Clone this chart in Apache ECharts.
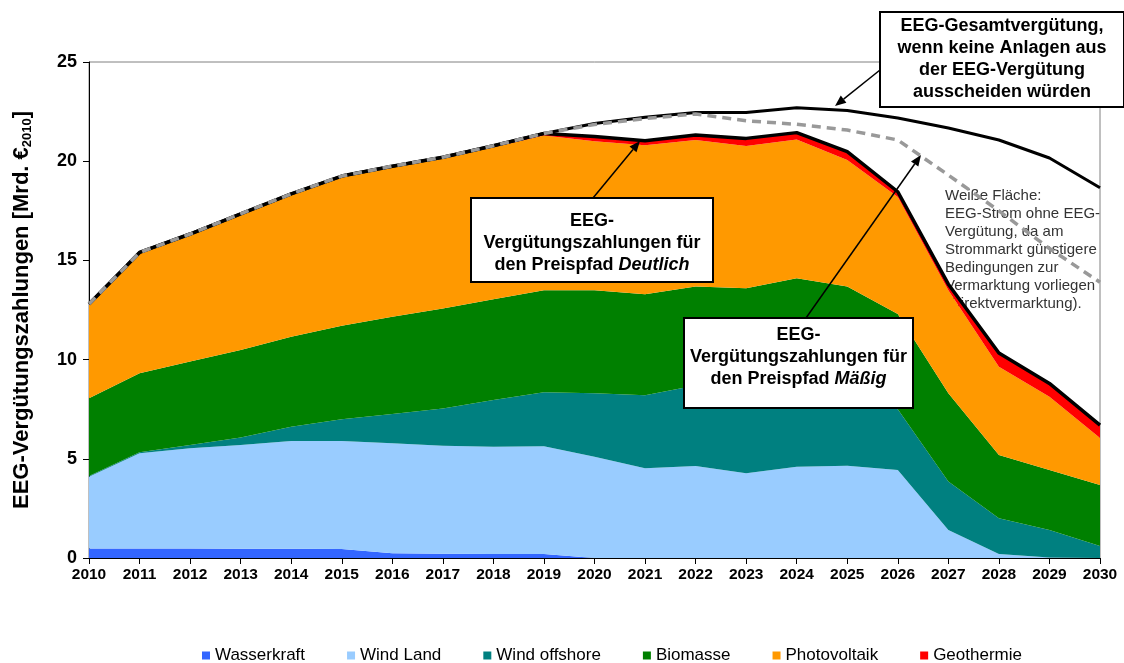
<!DOCTYPE html>
<html>
<head>
<meta charset="utf-8">
<script src="https://cdn.jsdelivr.net/npm/echarts@6/dist/echarts.min.js"></script>
<style>
  html, body { margin: 0; padding: 0; background: #fff; }
  #chart { width: 1124px; height: 663px; }
</style>
</head>
<body>
<div id="chart"></div>
<script>
// Jahre
const years = ['2010', '2011', '2012', '2013', '2014', '2015', '2016', '2017', '2018', '2019', '2020',
  '2021', '2022', '2023', '2024', '2025', '2026', '2027', '2028', '2029', '2030'];

// Vergütungszahlungen Preispfad Deutlich [Mrd. €2010], gestapelt
const wasserkraft = [0.48, 0.48, 0.48, 0.47, 0.46, 0.45, 0.24, 0.22, 0.2, 0.2, 0, 0, 0, 0, 0, 0, 0, 0, 0, 0, 0];
const windLand = [3.62, 4.8, 5.05, 5.23, 5.44, 5.45, 5.54, 5.44, 5.41, 5.43, 5.1, 4.52, 4.64, 4.27, 4.6, 4.65, 4.43, 1.41, 0.2, 0.03, 0];
const windOffshore = [0.03, 0.05, 0.17, 0.37, 0.72, 1.09, 1.48, 1.88, 2.35, 2.72, 3.2, 3.68, 4.06, 4.23, 4.1, 3.75, 3.07, 2.44, 1.8, 1.38, 0.6];
const biomasse = [3.92, 3.98, 4.2, 4.41, 4.53, 4.72, 4.9, 5.04, 5.08, 5.15, 5.2, 5.1, 4.98, 5.1, 5.4, 5.28, 4.8, 4.45, 3.19, 3.02, 3.08];
const photovoltaik = [4.7, 6.05, 6.38, 6.81, 7.15, 7.48, 7.53, 7.56, 7.66, 7.8, 7.5, 7.5, 7.39, 7.17, 7.0, 6.38, 5.9, 5.2, 4.45, 3.7, 2.37];
const geothermie = [0.05, 0.04, 0.05, 0.06, 0.05, 0.06, 0.06, 0.06, 0.08, 0.1, 0.24, 0.23, 0.25, 0.38, 0.34, 0.42, 0.26, 0.3, 0.69, 0.67, 0.65];

// Linien
const gesamt = [12.8, 15.4, 16.33, 17.35, 18.35, 19.25, 19.75, 20.2, 20.78, 21.4, 21.9, 22.22, 22.46, 22.46, 22.7, 22.55, 22.18, 21.67, 21.07, 20.16, 18.66];
const maessig = [12.8, 15.4, 16.33, 17.35, 18.35, 19.25, 19.75, 20.2, 20.78, 21.4, 21.85, 22.15, 22.38, 22.04, 21.86, 21.57, 21.07, 19.3, 17.5, 15.6, 13.9];

const yTicks = [0, 5, 10, 15, 20, 25];

const FONT = "'Liberation Sans', Arial, sans-serif";

const myChart = echarts.init(document.getElementById('chart'));

const areaSeries = (name, data, color) => ({
  name: name,
  type: 'line',
  stack: 'deutlich',
  data: data,
  color: color,
  showSymbol: false,
  symbol: 'none',
  lineStyle: { width: 0 },
  areaStyle: { color: color, opacity: 1 },
  emphasis: { disabled: true },
});

const arrow = (x1, y1, x2, y2) => {
  const ang = Math.atan2(y2 - y1, x2 - x1);
  const len = 11, w = 4.5;
  const bx = x2 - len * Math.cos(ang), by = y2 - len * Math.sin(ang);
  return [
    { type: 'line', z: 100, shape: { x1: x1, y1: y1, x2: bx, y2: by }, style: { stroke: '#000', lineWidth: 1.5 } },
    {
      type: 'polygon', z: 100,
      shape: { points: [[x2, y2], [bx + w * Math.sin(ang), by - w * Math.cos(ang)], [bx - w * Math.sin(ang), by + w * Math.cos(ang)]] },
      style: { fill: '#000' },
    },
  ];
};

const box = (x, y, w, h, text, cy) => [
  { type: 'rect', z: 100, shape: { x: x, y: y, width: w, height: h }, style: { fill: '#fff', stroke: '#000', lineWidth: 2 } },
  {
    type: 'text', z: 101, x: x + w / 2, y: cy,
    style: {
      text: text, align: 'center', verticalAlign: 'middle',
      fontFamily: FONT, fontSize: 18, fontWeight: 'bold', lineHeight: 22, fill: '#000',
      rich: { i: { fontFamily: FONT, fontSize: 18, fontWeight: 'bold', fontStyle: 'italic', lineHeight: 22, fill: '#000' } },
    },
  },
];

const option = {
  animation: false,
  backgroundColor: '#fff',
  grid: {
    left: 89, right: 24, top: 62, bottom: 105,
    show: true, borderColor: '#808080', borderWidth: 1,
  },
  legend: {
    left: 202, top: 647,
    icon: 'rect', itemWidth: 8, itemHeight: 8, itemGap: 42, padding: 0,
    textStyle: { fontFamily: FONT, fontSize: 17, color: '#000' },
    data: [
      'Wasserkraft', 'Wind Land', 'Wind offshore', 'Biomasse', 'Photovoltaik',
      { name: 'Geothermie', itemStyle: { color: '#FF0000' } },
    ],
  },
  xAxis: {
    type: 'category',
    data: years,
    boundaryGap: false,
    axisLine: { lineStyle: { color: '#000', width: 1 } },
    axisTick: { length: 6, lineStyle: { color: '#000' } },
    axisLabel: { color: '#000', fontFamily: FONT, fontSize: 15.5, fontWeight: 'bold', margin: 9 },
    splitLine: { show: false },
  },
  yAxis: {
    type: 'value',
    min: yTicks[0], max: yTicks[yTicks.length - 1], interval: 5,
    axisLine: { show: true, lineStyle: { color: '#000', width: 1 } },
    axisTick: { show: true, length: 6, lineStyle: { color: '#000' } },
    axisLabel: { color: '#000', fontFamily: FONT, fontSize: 18, fontWeight: 'bold', margin: 12 },
    splitLine: { show: false },
    name: '{a|EEG-Vergütungszahlungen [Mrd. €}{s|2010}{a|]}',
    nameLocation: 'middle',
    nameGap: 55,
    nameTextStyle: {
      rich: {
        a: { fontFamily: FONT, fontSize: 22, fontWeight: 'bold', color: '#000' },
        s: { fontFamily: FONT, fontSize: 13, fontWeight: 'bold', color: '#000', padding: [11, 0, 0, 0] },
      },
    },
  },
  series: [
    areaSeries('Wasserkraft', wasserkraft, '#3366FF'),
    areaSeries('Wind Land', windLand, '#99CCFF'),
    areaSeries('Wind offshore', windOffshore, '#008080'),
    areaSeries('Biomasse', biomasse, '#008000'),
    areaSeries('Photovoltaik', photovoltaik, '#FF9900'),
    Object.assign(areaSeries('Geothermie', geothermie, '#FF0000'), {
      lineStyle: { width: 3.5, color: '#000', join: 'round' },
    }),
    {
      name: 'Gesamt', type: 'line', data: gesamt,
      showSymbol: false, symbol: 'none', z: 3,
      lineStyle: { color: '#000', width: 3 },
      emphasis: { disabled: true },
    },
    {
      name: 'Mäßig', type: 'line', data: maessig,
      showSymbol: false, symbol: 'none', z: 4,
      lineStyle: { color: '#999', width: 3.5, type: [9, 6] },
      emphasis: { disabled: true },
    },
  ],
  graphic: [
    {
      type: 'text', z: 1, x: 945, y: 187,
      style: {
        text: 'Weiße Fläche:\nEEG-Strom ohne EEG-\nVergütung, da am\nStrommarkt günstigere\nBedingungen zur\nVermarktung vorliegen\n(Direktvermarktung).',
        fontFamily: FONT, fontSize: 15, lineHeight: 18, fill: '#333', align: 'left', verticalAlign: 'top',
      },
    },
    ...box(880, 12, 244, 95, 'EEG-Gesamtvergütung,\nwenn keine Anlagen aus\nder EEG-Vergütung\nausscheiden würden', 59),
    ...box(471, 198, 242, 84, 'EEG-\nVergütungszahlungen für\nden Preispfad {i|Deutlich}', 243),
    ...box(684, 318, 229, 90, 'EEG-\nVergütungszahlungen für\nden Preispfad {i|Mäßig}', 357),
    ...arrow(880, 70, 835, 106),
    ...arrow(593, 198, 640, 141),
    ...arrow(806, 318, 921, 155),
  ],
};

option && myChart.setOption(option);
</script>
</body>
</html>
